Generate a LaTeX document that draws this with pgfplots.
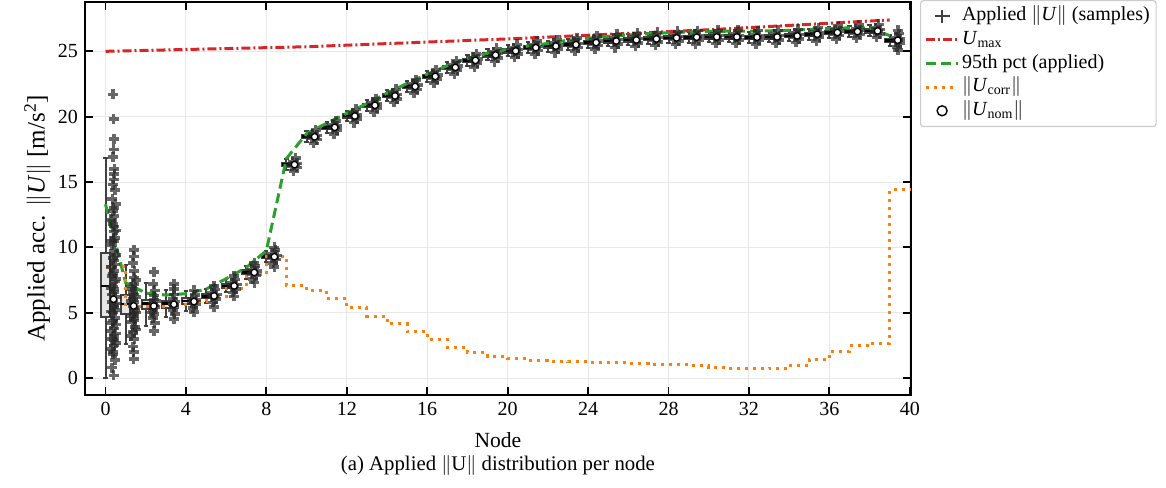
\documentclass[border=0pt]{standalone}
\usepackage{pgfplots}
\pgfplotsset{compat=1.18}
\usepgfplotslibrary{statistics}
\usepackage{pgfplotstable}
\usepackage{fontspec}
\setmainfont{Liberation Serif}

\definecolor{tabred}{HTML}{D62728}
\definecolor{tabgreen}{HTML}{2CA02C}
\definecolor{taborange}{HTML}{FF7F0E}

\tikzset{
  umaxline/.style={tabred, line width=1.5pt, dash pattern=on 4.5pt off 1.5pt on 1pt off 1.5pt},
  pctline/.style={tabgreen, line width=1.5pt, dash pattern=on 5pt off 2.5pt},
  corrline/.style={taborange, line width=1.5pt, dash pattern=on 1.5pt off 2.5pt},
}
\pgfplotsset{
  sampleleg/.style={legend image code/.code={\path[draw=none] (0pt,0pt) -- (16pt,0pt);
    \draw[black!75, line width=1.1pt, opacity=1, draw opacity=1, solid]
      (4.3pt,0pt) -- (11.7pt,0pt) (8pt,-3.4pt) -- (8pt,3.4pt);}},
  umaxleg/.style={legend image code/.code={\draw[umaxline] (0pt,0pt) -- (16pt,0pt);}},
  pctleg/.style={legend image code/.code={\draw[pctline] (0pt,0pt) -- (16pt,0pt);}},
  corrleg/.style={legend image code/.code={\draw[corrline] (0pt,0pt) -- (16pt,0pt);}},
  nomleg/.style={legend image code/.code={\path[draw=none] (0pt,0pt) -- (16pt,0pt);
    \draw[black, fill=white, line width=0.7pt] (8pt,0pt) circle (2.5pt);}},
}

% applied acceleration samples (node position + jitter, magnitude)
\pgfplotstableread{
x y
0.40 0.2
0.32 0.8
0.48 1.4
0.36 2.0
0.44 2.5
0.30 3.0
0.50 3.4
0.40 3.8
0.34 4.2
0.46 4.6
0.38 5.0
0.44 5.4
0.32 5.8
0.50 6.2
0.40 6.6
0.36 7.0
0.46 7.4
0.30 7.8
0.42 8.2
0.48 8.7
0.36 9.2
0.42 9.7
0.32 10.2
0.48 10.7
0.40 11.2
0.36 11.8
0.44 12.4
0.40 13.0
0.34 13.7
0.46 14.4
0.40 15.2
0.44 16.0
0.38 16.9
0.42 18.3
0.40 19.8
0.36 21.7
0.42 3.2
0.38 4.4
0.40 5.6
0.44 6.8
0.36 8.0
0.40 9.0
0.46 5.2
0.34 6.4
0.40 10.5
0.44 11.6
0.36 12.8
0.42 2.9
0.38 1.8
0.28 2.2
0.52 2.7
0.28 3.6
0.52 4.1
0.28 5.1
0.52 5.7
0.28 6.9
0.52 7.6
0.28 8.5
0.52 9.4
0.28 10.5
0.52 11.3
0.30 12.1
0.50 13.3
0.36 14.8
0.44 15.6
0.40 17.5
1.40 1.45
1.36 2.4
1.44 3.0
1.38 3.5
1.46 3.9
1.34 4.3
1.42 4.6
1.40 4.9
1.46 5.2
1.36 5.5
1.42 5.8
1.38 6.1
1.44 6.4
1.34 6.8
1.42 7.2
1.40 7.7
1.44 8.2
1.38 8.8
1.42 9.8
1.40 5.35
1.44 4.4
1.38 6.6
1.28 3.2
1.52 3.7
1.28 4.7
1.52 5.0
1.28 5.9
1.52 6.2
1.30 7.0
1.50 7.5
1.40 9.3
1.40 2.0
2.40 3.6
2.44 4.2
2.36 4.6
2.42 4.9
2.38 5.2
2.46 5.45
2.34 5.7
2.42 6.0
2.40 6.3
2.44 6.7
2.38 7.2
2.42 8.1
2.40 5.55
2.30 5.0
2.50 5.9
3.40 4.5
3.44 4.9
3.36 5.2
3.42 5.45
3.38 5.65
3.46 5.85
3.34 6.1
3.42 6.4
3.40 6.8
3.40 7.2
3.40 5.6
4.40 5.85
4.30 6.07
4.50 5.63
4.45 6.35
4.35 5.35
4.52 5.95
4.28 5.75
4.40 6.70
4.40 5.05
5.40 6.28
5.30 6.50
5.50 6.06
5.45 6.78
5.35 5.78
5.52 6.38
5.28 6.18
5.40 7.05
5.40 5.45
6.40 7.05
6.30 7.27
6.50 6.83
6.45 7.55
6.35 6.55
6.52 7.15
6.28 6.95
6.40 7.80
6.40 6.25
7.40 8.08
7.30 8.30
7.50 7.86
7.45 8.58
7.35 7.58
7.52 8.18
7.28 7.98
7.40 8.80
7.40 7.30
8.40 9.28
8.30 9.50
8.50 9.06
8.45 9.78
8.35 8.78
8.52 9.38
8.28 9.18
8.40 10.00
8.40 8.50
9.40 16.33
9.30 16.55
9.50 16.11
9.45 16.83
9.35 15.83
9.52 16.43
9.28 16.23
10.40 18.46
10.30 18.68
10.50 18.24
10.45 18.96
10.35 17.96
10.52 18.56
10.28 18.36
11.40 19.18
11.30 19.40
11.50 18.96
11.45 19.68
11.35 18.68
11.52 19.28
11.28 19.08
12.40 20.05
12.30 20.27
12.50 19.83
12.45 20.55
12.35 19.55
12.52 20.15
12.28 19.95
13.40 20.87
13.30 21.09
13.50 20.65
13.45 21.37
13.35 20.37
13.52 20.97
13.28 20.77
14.40 21.59
14.30 21.81
14.50 21.37
14.45 22.09
14.35 21.09
14.52 21.69
14.28 21.49
15.40 22.31
15.30 22.53
15.50 22.09
15.45 22.81
15.35 21.81
15.52 22.41
15.28 22.21
16.40 23.08
16.30 23.30
16.50 22.86
16.45 23.58
16.35 22.58
16.52 23.18
16.28 22.98
17.40 23.77
17.30 23.99
17.50 23.55
17.45 24.27
17.35 23.27
17.52 23.87
17.28 23.67
18.40 24.31
18.30 24.53
18.50 24.09
18.45 24.81
18.35 23.81
18.52 24.41
18.28 24.21
19.40 24.72
19.30 24.94
19.50 24.50
19.45 25.22
19.35 24.22
19.52 24.82
19.28 24.62
20.40 25.03
20.30 25.25
20.50 24.81
20.45 25.53
20.35 24.53
20.52 25.13
20.28 24.93
21.40 25.28
21.30 25.50
21.50 25.06
21.45 25.78
21.35 24.78
21.52 25.38
21.28 25.18
22.40 25.40
22.30 25.62
22.50 25.18
22.45 25.90
22.35 24.90
22.52 25.50
22.28 25.30
23.40 25.51
23.30 25.73
23.50 25.29
23.45 26.01
23.35 25.01
23.52 25.61
23.28 25.41
24.40 25.67
24.30 25.89
24.50 25.45
24.45 26.17
24.35 25.17
24.52 25.77
24.28 25.57
25.40 25.79
25.30 26.01
25.50 25.57
25.45 26.29
25.35 25.29
25.52 25.89
25.28 25.69
26.40 25.87
26.30 26.09
26.50 25.65
26.45 26.37
26.35 25.37
26.52 25.97
26.28 25.77
27.40 25.95
27.30 26.17
27.50 25.73
27.45 26.45
27.35 25.45
27.52 26.05
27.28 25.85
28.40 26.03
28.30 26.25
28.50 25.81
28.45 26.53
28.35 25.53
28.52 26.13
28.28 25.93
29.40 26.08
29.30 26.30
29.50 25.86
29.45 26.58
29.35 25.58
29.52 26.18
29.28 25.98
30.40 26.10
30.30 26.32
30.50 25.88
30.45 26.60
30.35 25.60
30.52 26.20
30.28 26.00
31.40 26.10
31.30 26.32
31.50 25.88
31.45 26.60
31.35 25.60
31.52 26.20
31.28 26.00
32.40 26.08
32.30 26.30
32.50 25.86
32.45 26.58
32.35 25.58
32.52 26.18
32.28 25.98
33.40 26.10
33.30 26.32
33.50 25.88
33.45 26.60
33.35 25.60
33.52 26.20
33.28 26.00
34.40 26.18
34.30 26.40
34.50 25.96
34.45 26.68
34.35 25.68
34.52 26.28
34.28 26.08
35.40 26.31
35.30 26.53
35.50 26.09
35.45 26.81
35.35 25.81
35.52 26.41
35.28 26.21
36.40 26.44
36.30 26.66
36.50 26.22
36.45 26.94
36.35 25.94
36.52 26.54
36.28 26.34
37.40 26.51
37.30 26.73
37.50 26.29
37.45 27.01
37.35 26.01
37.52 26.61
37.28 26.41
38.40 26.56
38.30 26.78
38.50 26.34
38.45 27.06
38.35 26.06
38.52 26.66
38.28 26.46
39.40 25.85
39.30 26.07
39.50 25.63
39.45 26.35
39.35 25.35
39.52 25.95
39.28 25.75
39.40 26.60
39.40 25.10
}\samples

% nominal command magnitude per node
\pgfplotstableread{
x y
0.4 6.03
1.4 5.52
2.4 5.51
3.4 5.64
4.4 5.85
5.4 6.28
6.4 7.05
7.4 8.08
8.4 9.28
9.4 16.33
10.4 18.46
11.4 19.18
12.4 20.05
13.4 20.87
14.4 21.59
15.4 22.31
16.4 23.08
17.4 23.77
18.4 24.31
19.4 24.72
20.4 25.03
21.4 25.28
22.4 25.40
23.4 25.51
24.4 25.67
25.4 25.79
26.4 25.87
27.4 25.95
28.4 26.03
29.4 26.08
30.4 26.10
31.4 26.10
32.4 26.08
33.4 26.10
34.4 26.18
35.4 26.31
36.4 26.44
37.4 26.51
38.4 26.56
39.4 25.85
}\nominal

% 95th percentile of the applied magnitude
\pgfplotstableread{
x y
0 13.3
1 7.3
2 6.5
3 6.35
4 6.45
5 6.8
6 7.6
7 8.45
8 9.75
9 16.8
10 18.7
11 19.5
12 20.25
13 21.0
14 21.8
15 22.55
16 23.25
17 23.9
18 24.45
19 24.85
20 25.15
21 25.4
22 25.6
23 25.85
24 26.0
25 26.15
26 26.25
27 26.35
28 26.42
29 26.48
30 26.52
31 26.54
32 26.55
33 26.57
34 26.6
35 26.68
36 26.74
37 26.8
38 26.8
39 26.2
}\pctl

% correction magnitude per node (held until the next node)
\pgfplotstableread{
x y
0 8.5
1 5.5
2 5.5
3 5.65
4 5.85
5 6.23
6 6.87
7 7.9
8 9.28
9 7.1
10 6.67
11 6.08
12 5.38
13 4.74
14 4.15
15 3.54
16 2.92
17 2.33
18 1.92
19 1.62
20 1.46
21 1.33
22 1.28
23 1.23
24 1.18
25 1.15
26 1.10
27 1.05
28 1.00
29 0.92
30 0.82
31 0.74
32 0.69
33 0.74
34 0.95
35 1.44
36 2.05
37 2.46
38 2.64
39 14.4
40 14.4
}\corr

\newcommand{\bx}[6]{\addplot[boxst, boxplot prepared={draw position=#1,
  lower whisker=#2, lower quartile=#3, median=#4, upper quartile=#5,
  upper whisker=#6}] coordinates {};}

\begin{document}
\begin{tikzpicture}
\path[use as bounding box] (-42.5pt,-46pt) rectangle (540.5pt,197.5pt);
\begin{axis}[
  at={(0pt,0pt)}, anchor=south west,
  scale only axis, width=412.9pt, height=196.4pt,
  xmin=-1.02, xmax=40.05, ymin=-1.3, ymax=28.76,
  xtick={0,4,...,40}, ytick={0,5,...,25},
  tick align=inside, major tick length=4pt,
  major tick style={black, line width=0.9pt},
  axis line style={line width=1.3pt},
  grid=major, major grid style={black!9, line width=0.5pt},
  /pgf/number format/assume math mode=true,
  xlabel={Node},
  xlabel style={at={(axis description cs:0.5,-0.1146)}, anchor=center,
    font=\fontsize{10.8}{13}\selectfont},
  ylabel={Applied acc. $\|$\textit{U}$\|$ [m/s\textsuperscript{2}]},
  ylabel style={at={(axis description cs:-0.0575,0.45)}, anchor=center,
    font=\fontsize{12.5}{15}\selectfont},
  boxst/.style={forget plot, draw=black!75, fill=black!10, line width=1pt,
    solid, boxplot/draw direction=y,
    boxplot/box extend=0.42, boxplot/whisker extend=0.21,
    boxplot/every median/.style={draw=black, line width=1.3pt}},
  legend cell align=left,
  legend style={at={(1,1)}, anchor=north west, xshift=4.6pt, yshift=1.1pt,
    draw=black!20, rounded corners=1.5pt, line width=0.6pt,
    inner xsep=2pt, inner ysep=2pt, row sep=0pt,
    nodes={inner sep=1.2pt, text height=7pt, text depth=2.4pt}},
]
\addplot[only marks, mark=+, mark size=2.5pt, black!85, opacity=0.7,
  line width=1.8pt, sampleleg]
  table {\samples};
\addlegendentry{Applied $\|$\textit{U}$\|$ (samples)}

\bx{0}{0.0}{4.70}{7.05}{9.53}{16.8}
\bx{1}{2.58}{4.88}{5.65}{6.37}{8.66}
\bx{2}{3.99}{5.27}{5.72}{5.95}{7.28}
\bx{3}{4.70}{5.39}{5.72}{5.90}{6.72}
\bx{4}{5.14}{5.70}{5.90}{6.10}{6.64}
\bx{5}{5.75}{6.10}{6.25}{6.40}{6.80}
\bx{6}{6.55}{6.90}{7.05}{7.20}{7.55}
\bx{7}{7.60}{7.93}{8.08}{8.23}{8.55}
\bx{8}{8.85}{9.15}{9.28}{9.40}{9.70}
\bx{9}{15.91}{16.21}{16.33}{16.45}{16.75}
\bx{10}{18.04}{18.34}{18.46}{18.58}{18.88}
\bx{11}{18.76}{19.06}{19.18}{19.30}{19.60}
\bx{12}{19.63}{19.93}{20.05}{20.17}{20.47}
\bx{13}{20.45}{20.75}{20.87}{20.99}{21.29}
\bx{14}{21.17}{21.47}{21.59}{21.71}{22.01}
\bx{15}{21.89}{22.19}{22.31}{22.43}{22.73}
\bx{16}{22.66}{22.96}{23.08}{23.20}{23.50}
\bx{17}{23.35}{23.65}{23.77}{23.89}{24.19}
\bx{18}{23.89}{24.19}{24.31}{24.43}{24.73}
\bx{19}{24.30}{24.60}{24.72}{24.84}{25.14}
\bx{20}{24.61}{24.91}{25.03}{25.15}{25.45}
\bx{21}{24.86}{25.16}{25.28}{25.40}{25.70}
\bx{22}{24.98}{25.28}{25.40}{25.52}{25.82}
\bx{23}{25.09}{25.39}{25.51}{25.63}{25.93}
\bx{24}{25.25}{25.55}{25.67}{25.79}{26.09}
\bx{25}{25.37}{25.67}{25.79}{25.91}{26.21}
\bx{26}{25.45}{25.75}{25.87}{25.99}{26.29}
\bx{27}{25.53}{25.83}{25.95}{26.07}{26.37}
\bx{28}{25.61}{25.91}{26.03}{26.15}{26.45}
\bx{29}{25.66}{25.96}{26.08}{26.20}{26.50}
\bx{30}{25.68}{25.98}{26.10}{26.22}{26.52}
\bx{31}{25.68}{25.98}{26.10}{26.22}{26.52}
\bx{32}{25.66}{25.96}{26.08}{26.20}{26.50}
\bx{33}{25.68}{25.98}{26.10}{26.22}{26.52}
\bx{34}{25.76}{26.06}{26.18}{26.30}{26.60}
\bx{35}{25.89}{26.19}{26.31}{26.43}{26.73}
\bx{36}{26.02}{26.32}{26.44}{26.56}{26.86}
\bx{37}{26.09}{26.39}{26.51}{26.63}{26.93}
\bx{38}{26.14}{26.44}{26.56}{26.68}{26.98}
\bx{39}{25.43}{25.73}{25.85}{25.97}{26.27}

\addplot[umaxline, umaxleg]
  coordinates {(0,25.0) (10,25.35) (20,25.95) (30,26.65) (39,27.4)};
\addlegendentry{\textit{U}\textsubscript{max}}

\addplot[pctline, pctleg] table {\pctl};
\addlegendentry{95th pct (applied)}

\addplot[corrline, const plot mark left, corrleg] table {\corr};
\addlegendentry{$\|$\textit{U}\textsubscript{corr}$\|$}

\addplot[only marks, mark=*, mark size=1.6pt,
  mark options={draw=black, fill=white, line width=0.6pt}, nomleg]
  table {\nominal};
\addlegendentry{$\|$\textit{U}\textsubscript{nom}$\|$}
\end{axis}
\node[font=\fontsize{10.4}{12.5}\selectfont] at (206.45pt,-35pt)
  {(a) Applied $\|$U$\|$ distribution per node};
\end{tikzpicture}
\end{document}
